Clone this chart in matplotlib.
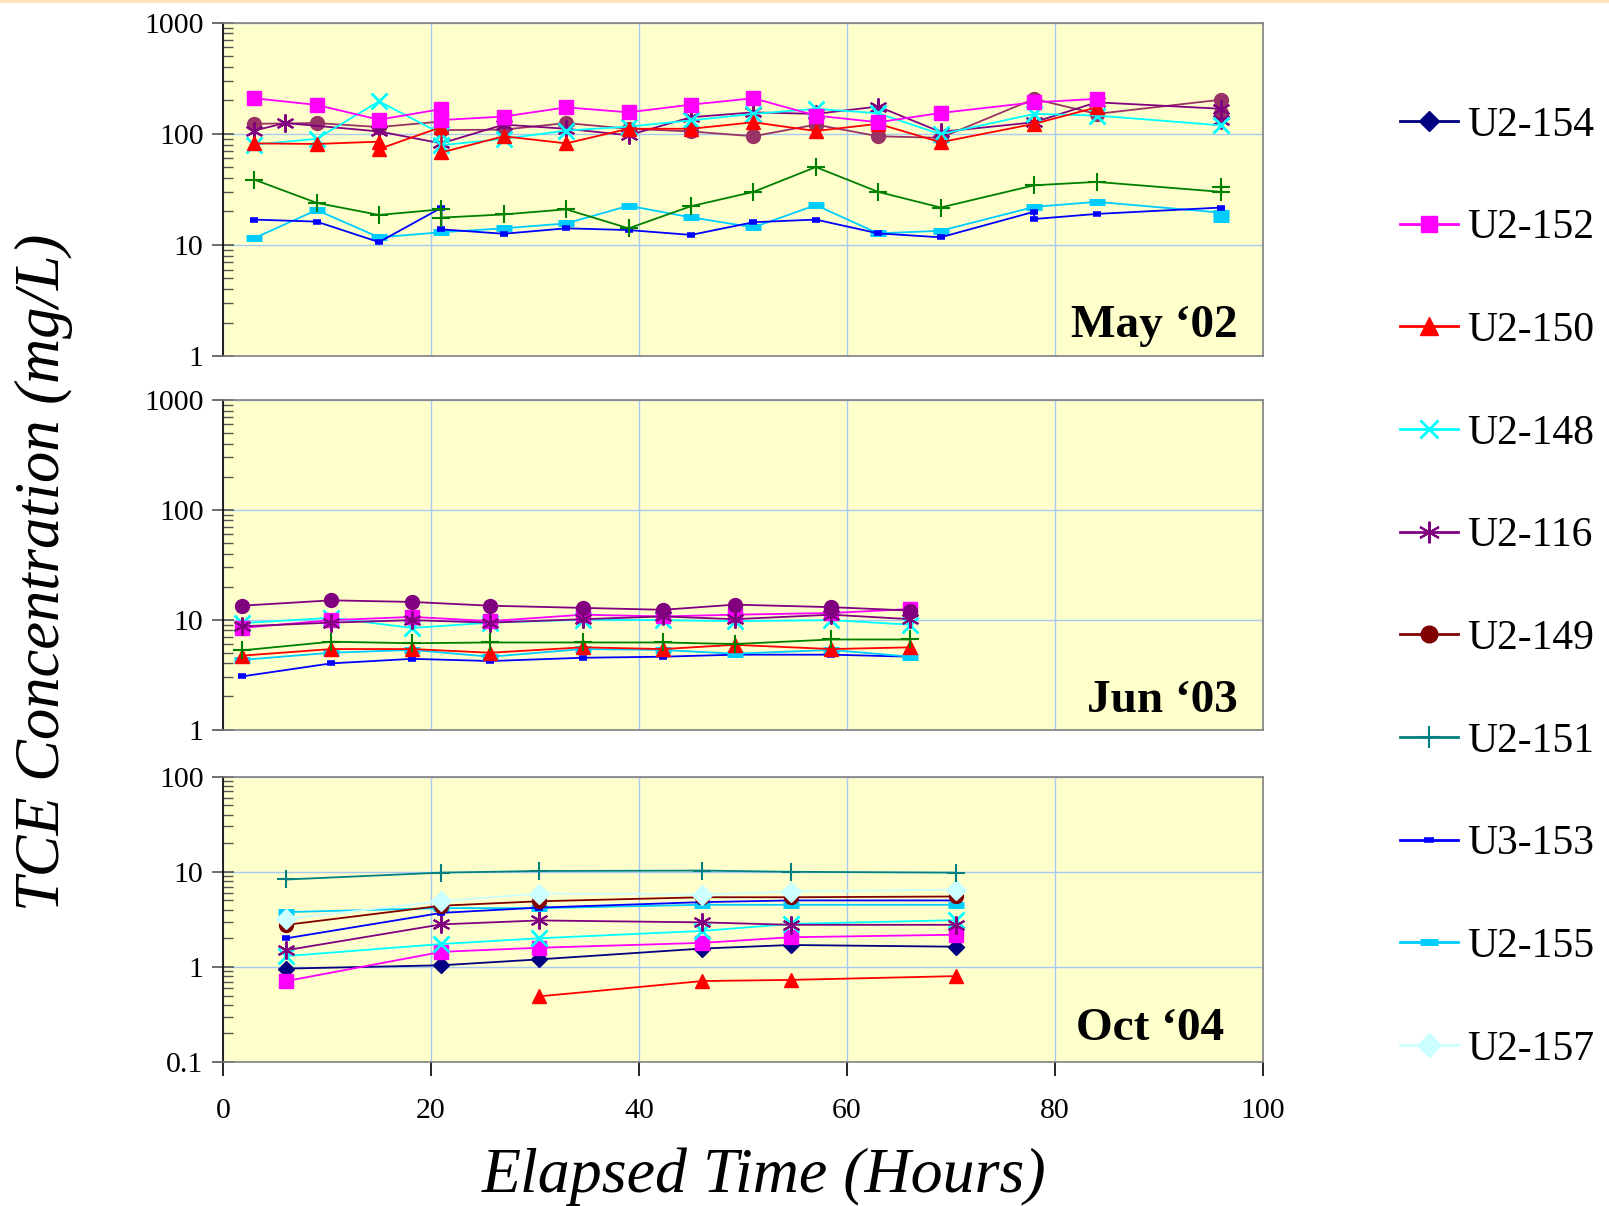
import matplotlib
matplotlib.use("Agg")
import matplotlib.pyplot as plt
from matplotlib.lines import Line2D
from matplotlib.ticker import LogLocator, FuncFormatter, NullFormatter, FixedLocator

plt.rcParams['font.family'] = ['Liberation Serif', 'DejaVu Serif']

# ---------------- DATA ----------------
series_names = ["U2-154", "U2-152", "U2-150", "U2-148", "U2-116",
                "U2-149", "U2-151", "U3-153", "U2-155", "U2-157"]
panel_titles = ["May \u201802", "Jun \u201803", "Oct \u201804"]
x_ticks = [0, 20, 40, 60, 80, 100]

# --- May '02 ---
may_t_152 = [3, 9, 15, 21, 21, 27, 33, 39, 45, 51, 57, 63, 69, 78, 84]
may_v_152 = [209, 182, 134, 167, 133, 143, 173, 156, 183, 209, 146, 127, 154, 192, 206]
may_t_150 = [3, 9, 15, 15, 21, 21, 27, 33, 39, 45, 51, 57, 63, 69, 78, 84]
may_v_150 = [82, 81, 85, 73, 115, 68, 95, 82, 111, 111, 127, 106, 123, 84, 123, 173]
may_t_148 = [3, 9, 15, 21, 21, 27, 33, 39, 45, 51, 57, 63, 69, 78, 84, 96]
may_v_148 = [80, 90, 196, 100, 79, 90, 107, 116, 132, 151, 168, 153, 99, 151, 146, 119]
may_t_116 = [3, 6, 15, 21, 27, 33, 39, 45, 51, 57, 63, 69, 78, 84, 96, 96]
may_v_116 = [107, 125, 105, 82, 121, 111, 97, 141, 156, 151, 176, 104, 127, 192, 168, 132]
may_t_149 = [3, 9, 15, 21, 21, 27, 33, 39, 45, 51, 57, 63, 69, 78, 84, 96, 96]
may_v_149 = [123, 125, 115, 129, 108, 109, 125, 111, 105, 95, 121, 95, 92, 206, 151, 203, 153]
may_t_151 = [3, 9, 15, 21, 21, 27, 33, 39, 45, 51, 57, 63, 69, 78, 84, 96, 96]
may_v_151 = [38.7, 23.9, 18.6, 20.9, 17.6, 18.8, 20.9, 14.1, 22.3, 30, 50.2, 30, 21.7, 34.4, 36.9, 30, 33.3]
may_t_153 = [3, 9, 15, 21, 21, 27, 33, 39, 45, 51, 57, 63, 69, 78, 78, 84, 96]
may_v_153 = [16.9, 16.2, 10.6, 21.6, 13.8, 12.6, 14.1, 13.6, 12.3, 16.0, 16.9, 12.7, 11.7, 19.9, 17.1, 19.0, 21.7]
may_t_155 = [3, 9, 15, 21, 27, 33, 39, 45, 51, 57, 63, 69, 78, 84, 96, 96]
may_v_155 = [11.5, 20.6, 11.7, 13.0, 14.1, 15.6, 22.5, 17.7, 14.4, 22.8, 12.7, 13.4, 22.0, 24.4, 19.5, 17.0]

# --- Jun '03 ---
jun_t = [1.8, 10.4, 18.2, 25.7, 34.6, 42.3, 49.2, 58.5, 66.1]
jun_v_149 = [13.4, 15.0, 14.5, 13.4, 12.8, 12.3, 13.7, 13.0, 12.1]
jun_v_152 = [8.4, 9.9, 10.6, 9.7, 11.1, 10.7, 11.1, 11.5, 12.5]
jun_v_148 = [9.3, 10.4, 8.4, 9.4, 10.0, 9.9, 9.7, 9.9, 9.0]
jun_v_116 = [8.7, 9.4, 9.9, 9.4, 10.1, 10.7, 10.1, 11.1, 10.1]
jun_v_151 = [5.25, 6.3, 6.1, 6.2, 6.2, 6.2, 6.0, 6.6, 6.6]
jun_v_150 = [4.7, 5.4, 5.4, 5.0, 5.6, 5.4, 5.9, 5.4, 5.6]
jun_v_155 = [4.3, 5.0, 5.3, 4.6, 5.4, 5.3, 4.9, 5.3, 4.6]
jun_v_153 = [3.04, 4.0, 4.4, 4.2, 4.5, 4.6, 4.8, 4.8, 4.6]

# --- Oct '04 ---
oct_t = [6.1, 21.0, 30.4, 46.1, 54.6, 70.5]
oct_v_151 = [8.3, 9.8, 10.2, 10.3, 10.0, 9.8]
oct_v_157 = [3.2, 4.9, 5.9, 5.75, 6.2, 6.5]
oct_v_149 = [2.77, 4.4, 4.9, 5.4, 5.4, 5.5]
oct_v_153 = [2.0, 3.7, 4.2, 4.8, 5.0, 5.0]
oct_v_155 = [3.77, 4.15, 4.15, 4.5, 4.5, 4.5]
oct_v_116 = [1.5, 2.8, 3.08, 2.94, 2.77, 2.77]
oct_v_148 = [1.3, 1.74, 2.0, 2.39, 2.83, 3.1]
oct_v_152 = [0.71, 1.44, 1.59, 1.79, 2.05, 2.18]
oct_v_154 = [0.96, 1.04, 1.2, 1.56, 1.70, 1.63]
oct_t_150 = [30.4, 46.1, 54.6, 70.5]
oct_v_150 = [0.49, 0.71, 0.73, 0.80]

# ---------------- STYLES ----------------
STY = {
    "U2-154": dict(color="#000080", marker="D", ms=8.5),
    "U2-152": dict(color="#FF00FF", marker="s", ms=10),
    "U2-150": dict(color="#FF0000", marker="^", ms=10.5),
    "U2-148": dict(color="#00FFFF", marker="x", ms=11, mew=2),
    "U2-116": dict(color="#800080", marker=(6, 2, 0), ms=13, mew=1.5),
    "U2-149": dict(color="#800000", marker="o", ms=10),
    "U2-151": dict(color="#008080", marker="+", ms=13, mew=1.5),
    "U3-153": dict(color="#0000FF", marker="_", ms=6, mew=4),
    "U2-155": dict(color="#00CCFF", marker="_", ms=11, mew=5),
    "U2-157": dict(color="#CCFFFF", marker="D", ms=10.5),
}
LW = 1.3

W, H = 1609, 1206
fig = plt.figure(figsize=(W / 100, H / 100), dpi=100)

left, right = 223 / W, 1263 / W
panels = [(22.7, 356.0), (400.0, 729.5), (776.7, 1062.0)]
ylims = [(1, 1000), (1, 1000), (0.1, 100)]
axes = []
for (top_px, bot_px) in panels:
    ax = fig.add_axes([left, 1 - bot_px / H, right - left, (bot_px - top_px) / H])
    axes.append(ax)


def plot(ax, name, t, v, color=None):
    s = dict(STY[name])
    if color is not None:
        s["color"] = color
    c = s.pop("color")
    ax.plot(t, v, color=c, lw=LW, markerfacecolor=c, markeredgecolor=c, zorder=3, **s)


a0, a1, a2 = axes
# May '02
plot(a0, "U2-155", may_t_155, may_v_155)
plot(a0, "U3-153", may_t_153, may_v_153)
plot(a0, "U2-151", may_t_151, may_v_151, color="#008000")
plot(a0, "U2-149", may_t_149, may_v_149, color="#993366")
plot(a0, "U2-116", may_t_116, may_v_116)
plot(a0, "U2-148", may_t_148, may_v_148)
plot(a0, "U2-150", may_t_150, may_v_150)
plot(a0, "U2-152", may_t_152, may_v_152)

# Jun '03
plot(a1, "U3-153", jun_t, jun_v_153)
plot(a1, "U2-155", jun_t, jun_v_155)
plot(a1, "U2-150", jun_t, jun_v_150)
plot(a1, "U2-151", jun_t, jun_v_151, color="#008000")
plot(a1, "U2-148", jun_t, jun_v_148)
plot(a1, "U2-152", jun_t, jun_v_152)
plot(a1, "U2-116", jun_t, jun_v_116)
plot(a1, "U2-149", jun_t, jun_v_149, color="#800080")

# Oct '04
plot(a2, "U2-150", oct_t_150, oct_v_150)
plot(a2, "U2-154", oct_t, oct_v_154)
plot(a2, "U2-152", oct_t, oct_v_152)
plot(a2, "U2-148", oct_t, oct_v_148)
plot(a2, "U2-116", oct_t, oct_v_116)
plot(a2, "U2-155", oct_t, oct_v_155)
plot(a2, "U3-153", oct_t, oct_v_153)
plot(a2, "U2-149", oct_t, oct_v_149)
plot(a2, "U2-157", oct_t, oct_v_157)
plot(a2, "U2-151", oct_t, oct_v_151)

label_pos = [(0.976, 0.058), (0.976, 0.053), (0.9625, 0.077)]
for i, ax in enumerate(axes):
    ax.set_facecolor("#FFFFCC")
    ax.set_xlim(0, 100)
    ax.set_yscale("log")
    ax.set_ylim(*ylims[i])
    for sp in ("top", "right", "bottom"):
        ax.spines[sp].set_color("#808080")
        ax.spines[sp].set_linewidth(1.2)
    ax.spines["left"].set_color("black")
    ax.spines["left"].set_linewidth(1.2)
    ax.xaxis.set_major_locator(FixedLocator(x_ticks))
    ax.yaxis.set_major_locator(LogLocator(base=10, numticks=10))
    ax.yaxis.set_minor_locator(LogLocator(base=10, subs=range(2, 10), numticks=20))
    ax.yaxis.set_minor_formatter(NullFormatter())
    ax.yaxis.set_major_formatter(FuncFormatter(lambda v, p: "%g" % v))
    ax.tick_params(axis="y", which="major", direction="inout", length=16, width=1.2,
                   labelsize=21.5, pad=6, color="#555555")
    ax.tick_params(axis="y", which="minor", direction="in", length=7, width=1, color="#555555")
    ax.grid(True, which="major", color="#A6CAF0", lw=1)
    ax.set_axisbelow(True)
    ax.text(label_pos[i][0], label_pos[i][1], panel_titles[i], transform=ax.transAxes,
            ha="right", va="baseline", fontsize=34, fontweight="bold")
    if i < 2:
        ax.tick_params(axis="x", which="both", length=0, labelbottom=False)
    else:
        ax.tick_params(axis="x", direction="out", length=10, width=1.2, labelsize=21.5, pad=16)

fig.text(44 / W, 1 - 572 / H, "TCE Concentration (mg/L)", rotation=90, ha="center",
         va="center", fontsize=45, style="italic")
fig.text(764 / W, 1 - 1177 / H, "Elapsed Time (Hours)", ha="center", va="center",
         fontsize=46, style="italic")

# legend
handles = []
for n in series_names:
    s = dict(STY[n])
    c = s.pop("color")
    s["ms"] = s["ms"] * 1.2
    handles.append(Line2D([0], [0], color=c, lw=2, markerfacecolor=c, markeredgecolor=c, **s))
fig.legend(handles, series_names, loc="upper left", bbox_to_anchor=(1400 / W, 1 - 106 / H),
           frameon=False, fontsize=30, handlelength=1.39, handletextpad=0.22,
           labelspacing=1.54, borderpad=0, borderaxespad=0)

fig.add_artist(Line2D([0, 1], [0.999, 0.999], transform=fig.transFigure,
                      color="#FFE3B8", lw=2))

fig.savefig("out.png", dpi=100)
